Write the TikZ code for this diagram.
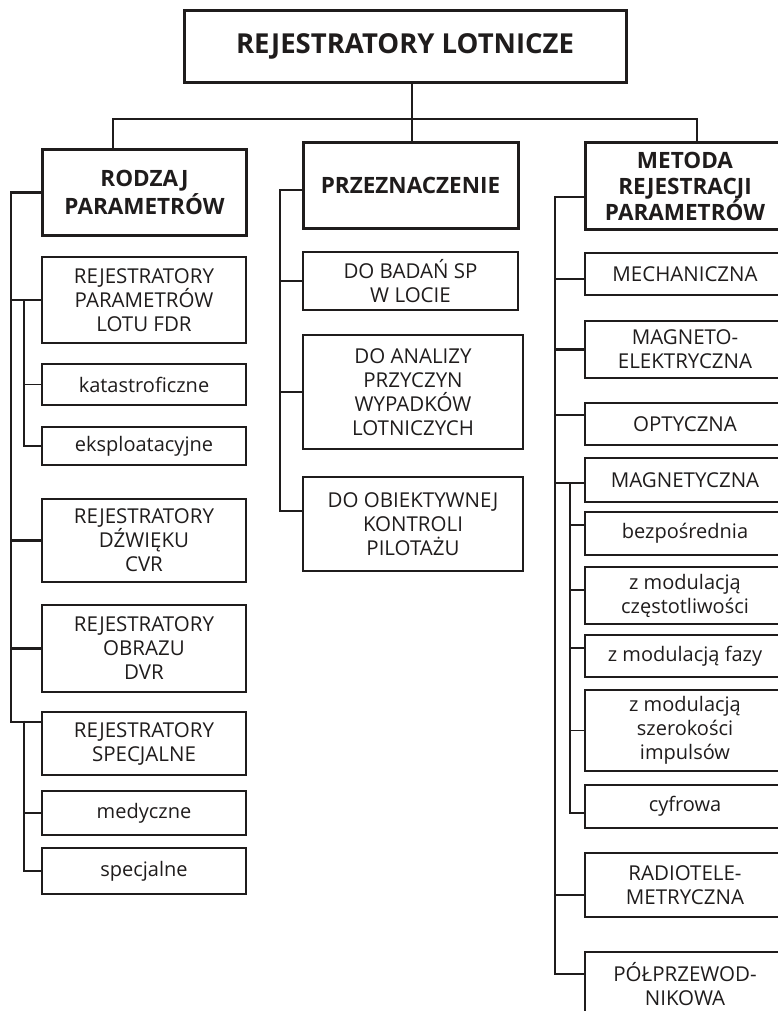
\documentclass[tikz,border=0pt]{standalone}
\usepackage{fontspec}
\setmainfont{Open Sans}
\usepackage{xcolor}
\definecolor{inkgray}{rgb}{0.12,0.11,0.11}
\RequirePackage{tikz}
\usetikzlibrary{positioning}

\begin{document}
\begin{tikzpicture}[x=1pt, y=-1pt,
		every node/.style={align=center, inner sep=0pt, text=inkgray},
		mainbox/.style={draw=inkgray, line width=3pt, minimum width=204pt, font=\fontsize{22.5}{28}\selectfont\bfseries},
		catbox/.style={draw=inkgray, line width=2.7pt, minimum width=204pt, font=\fontsize{20.5}{24}\selectfont},
		subbox/.style={draw=inkgray, line width=1.7pt, minimum width=204pt, font=\fontsize{20}{24}\selectfont},
		trunk/.style={draw=inkgray, line width=2.7pt},
		twig/.style={draw=inkgray, line width=1.7pt}]
			\useasboundingbox (0,0) rectangle (777,1011);
			\node[mainbox, minimum width=442pt, minimum height=72pt, font=\fontsize{27.5}{32}\selectfont\bfseries] (title) at (405,46.5) {REJESTRATORY LOTNICZE};
			% rodzaj parametrow
			\node[mainbox, minimum height=86pt] (rodzaj) at (144.5,192.5) {RODZAJ\\PARAMETRÓW};
			\node[catbox, minimum height=86pt] (fdr) at (144,300) {REJESTRATORY\\PARAMETRÓW\\LOTU FDR};
			\node[subbox, minimum height=41pt] (katastr) at (144,384.5) {katastroficzne};
			\node[subbox, minimum height=38pt] (eksploat) at (144,446) {eksploatacyjne};
			\node[catbox, minimum height=83pt] (cvr) at (144,540.5) {REJESTRATORY\\DŹWIĘKU\\CVR};
			\node[catbox, minimum height=87pt] (dvr) at (144,648.5) {REJESTRATORY\\OBRAZU\\DVR};
			\node[catbox, minimum height=63pt] (specjal) at (144,743.5) {REJESTRATORY\\SPECJALNE};
			\node[subbox, minimum height=44pt] (medycz) at (144,813) {medyczne};
			\node[subbox, minimum height=46pt] (specsub) at (144,871) {specjalne};
			% przeznaczenie
			\node[mainbox, minimum width=215pt, minimum height=85pt] (przezn) at (410.5,185.5) {PRZEZNACZENIE};
			\node[catbox, minimum width=215pt, minimum height=58pt] (badan) at (410.5,281) {DO BADAŃ SP\\W LOCIE};
			\node[catbox, minimum width=220pt, minimum height=114pt] (analiz) at (413,392) {DO ANALIZY\\PRZYCZYN\\WYPADKÓW\\LOTNICZYCH};
			\node[catbox, minimum width=220pt, minimum height=94pt] (obiekt) at (413,524) {DO OBIEKTYWNEJ\\KONTROLI\\PILOTAŻU};
			% metoda rejestracji
			\node[mainbox, minimum width=200pt, minimum height=86pt, font=\fontsize{22.5}{26}\selectfont\bfseries] (metoda) at (685,186) {METODA\\REJESTRACJI\\PARAMETRÓW};
			\node[catbox, minimum width=200pt, minimum height=42pt] (mechan) at (685,274) {MECHANICZNA};
			\node[catbox, minimum width=200pt, minimum height=57pt] (magneto) at (685,349.5) {MAGNETO-\\ELEKTRYCZNA};
			\node[catbox, minimum width=200pt, minimum height=42pt] (optycz) at (685,424) {OPTYCZNA};
			\node[catbox, minimum width=200pt, minimum height=44pt] (magnet) at (685,480) {MAGNETYCZNA};
			\node[subbox, minimum width=200pt, minimum height=43pt] (bezpos) at (685,533.5) {bezpośrednia};
			\node[subbox, minimum width=200pt, minimum height=57pt] (czestot) at (685,595.5) {z modulacją\\częstotliwości};
			\node[subbox, minimum width=200pt, minimum height=42pt] (fazy) at (685,656) {z modulacją fazy};
			\node[subbox, minimum width=200pt, minimum height=81pt] (impuls) at (685,730.5) {z modulacją\\szerokości\\impulsów};
			\node[subbox, minimum width=200pt, minimum height=43pt] (cyfrowa) at (685,806.5) {cyfrowa};
			\node[catbox, minimum width=200pt, minimum height=64pt] (radio) at (685,885) {RADIOTELE-\\METRYCZNA};
			\node[catbox, minimum width=200pt, minimum height=65pt] (polprz) at (685,984.5) {PÓŁPRZEWOD-\\NIKOWA};
			% trunks
			\coordinate (ltrunk) at (11,0);
			\coordinate (lsub) at (24,0);
			\coordinate (mtrunk) at (280,0);
			\coordinate (rtrunk) at (555,0);
			\coordinate (rsub) at (570,0);
			\draw[trunk] ([xshift=-31.5pt]rodzaj.north) |- (697,119) -- ([xshift=12pt]metoda.north);
			\draw[trunk] ([xshift=7pt]title.south) -- ([xshift=1.5pt]przezn.north);
			\draw[trunk] (rodzaj.west) -| (ltrunk |- specjal.north) |- ([yshift=21.5pt]specjal.west);
			\foreach \n in {fdr,cvr,dvr}
				\draw[trunk] (\n.west) -- (\n.west -| ltrunk);
			\draw[twig] (lsub |- fdr.west) |- (eksploat.west);
			\draw[twig] (katastr.west) -- (katastr.west -| lsub);
			\draw[twig] (lsub |- specjal.north) ++(0,10) |- (specsub.west);
			\draw[twig] (medycz.west) -- (medycz.west -| lsub);
			\draw[trunk] ([yshift=-4.5pt]przezn.west) -| (mtrunk |- obiekt.north) |- ([yshift=13pt]obiekt.west);
			\foreach \n in {badan,analiz}
				\draw[trunk] (\n.west) -- (\n.west -| mtrunk);
			\draw[trunk] ([yshift=-11pt]metoda.west) -| (rtrunk |- polprz.north) |- ([yshift=10.5pt]polprz.west);
			\draw[trunk] ([yshift=-5pt]mechan.west) -- ([yshift=-5pt]mechan.west -| rtrunk);
			\draw[trunk] (magneto.west) -- (magneto.west -| rtrunk);
			\draw[trunk] ([yshift=9pt]optycz.west) -- ([yshift=9pt]optycz.west -| rtrunk);
			\draw[trunk] ([yshift=-3pt]magnet.west) -- ([yshift=-3pt]magnet.west -| rtrunk);
			\draw[trunk] ([yshift=-10pt]radio.west) -- ([yshift=-10pt]radio.west -| rtrunk);
			\draw[twig] ([yshift=-3pt]rsub |- magnet.west) |- ([yshift=-6.5pt]cyfrowa.west);
			\draw[twig] ([yshift=8.5pt]bezpos.west) -- ([yshift=8.5pt]bezpos.west -| rsub);
			\draw[twig] ([yshift=5.5pt]czestot.west) -- ([yshift=5.5pt]czestot.west -| rsub);
			\draw[twig] ([yshift=8pt]fazy.west) -- ([yshift=8pt]fazy.west -| rsub);
			\draw[twig] (impuls.west) -- (impuls.west -| rsub);
		\end{tikzpicture}
\end{document}
